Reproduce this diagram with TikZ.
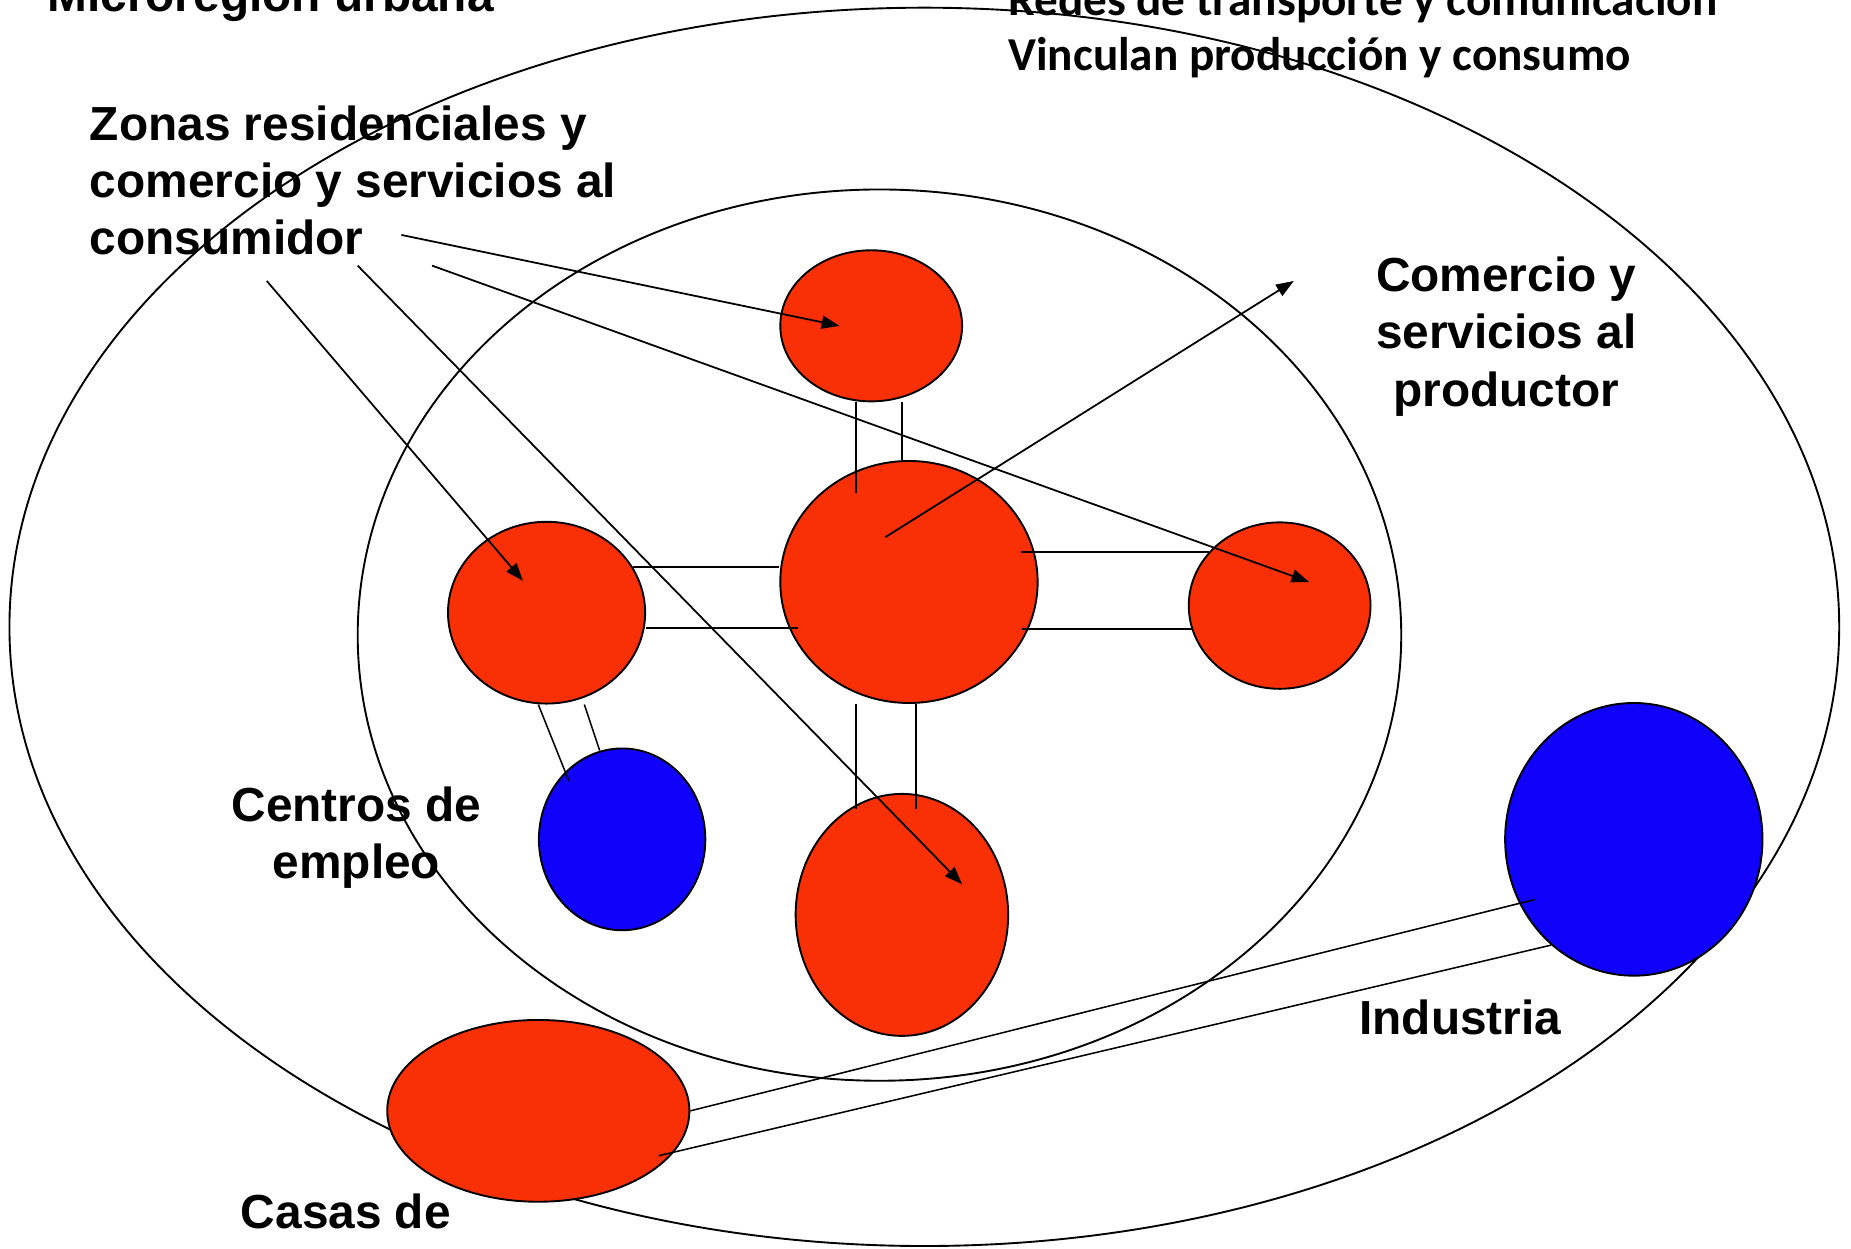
\documentclass[tikz,border=0pt]{standalone}
\usepackage{fontspec}
\setmainfont{Liberation Sans}
\newfontfamily\calibri{Carlito}
\usepackage{xcolor}
\usepackage{tikz}
\usetikzlibrary{arrows.meta}
\usetikzlibrary{shapes.geometric,calc}
\definecolor{rojoZona}{RGB}{249,48,6}
\definecolor{azulEmpleo}{RGB}{16,2,250}

\begin{document}
\begin{tikzpicture}[x = 1pt,y = -1pt,
    region/.style = {ellipse,draw,inner sep = 0pt,line width = 1.6pt},
    zona/.style = {ellipse,draw,fill = rojoZona,inner sep = 0pt,line width = 1.6pt},
    empleoZona/.style = {ellipse,draw,fill = azulEmpleo,inner sep = 0pt,line width = 1.6pt},
    via/.style = {line width = 1.3pt},
    flecha/.style = {-{Triangle[length = 15pt,width = 11pt]},line width = 1.5pt},
    etiqueta/.style = {inner sep = 0pt,font = \bfseries\fontsize{40.5}{48.5}\selectfont}]
    \useasboundingbox (0,0) rectangle (1568,1058);

    \node[region,minimum width = 1550pt,minimum height = 1049pt](microRegion) at (783,531) {};
    \node[region,minimum width = 884pt,minimum height = 755pt](ciudad) at (745,538) {};

    \node[zona,minimum width = 154pt,minimum height = 128pt](norte) at (738,276) {};
    \node[zona,minimum width = 218pt,minimum height = 205pt](centro) at (770,493) {};
    \node[zona,minimum width = 167pt,minimum height = 154pt](oeste) at (463,519) {};
    \node[zona,minimum width = 154pt,minimum height = 141pt](este) at (1084,513) {};
    \node[zona,minimum width = 180pt,minimum height = 205pt](sur) at (764,775) {};
    \node[zona,minimum width = 256pt,minimum height = 154pt](casas) at (456,941) {};
    \node[empleoZona,minimum width = 141pt,minimum height = 154pt](empleo) at (527,711) {};
    \node[empleoZona,minimum width = 218pt,minimum height = 231pt](industria) at (1384,711) {};

    \draw[via] ([xshift = -13pt]norte.south) -- ++(0,77);
    \draw[via] ([xshift = 26pt]norte.south) -- ([xshift = 26pt]norte.south |- centro.north);
    \draw[via] (oeste.28) -- (oeste.28 -| centro.west);
    \draw[via] ([yshift = -13pt]oeste.east) -- ++(129,0);
    \draw[via] (este.143) -- ++(-159,0);
    \draw[via] (este.195) -- ++(-144,0);
    \draw[via] ([xshift = -45pt]centro.south) -- ++(0,89);
    \draw[via] ([xshift = 6pt]centro.south) -- ++(0,89);
    \draw[via] ([xshift = -7pt]oeste.south) -- ++(26,65);
    \draw[via] ([xshift = 32pt]oeste.south) -- ++(13,39);
    \draw[via] (casas.east) -- ($(industria)+(-84,51)$);
    \draw[via] ($(casas)+(102,38)$) -- (industria.232);

    \coordinate (desdeZonas1) at (340,199);
    \coordinate (desdeZonas2) at (366,225);
    \coordinate (desdeZonas3) at (226,238);
    \coordinate (desdeZonas4) at (303,225);
    \coordinate (haciaComercio) at (1096,238);

    \draw[flecha] (desdeZonas1) -- ($(norte)+(-27,0)$);
    \draw[flecha] (desdeZonas2) -- ($(este)+(25,-20)$);
    \draw[flecha] (desdeZonas3) -- ($(oeste)+(-20,-27)$);
    \draw[flecha] (desdeZonas4) -- ($(sur)+(51,-26)$);
    \draw[flecha] ($(centro)+(-20,-38)$) -- (haciaComercio);

    \node[etiqueta,anchor = base west,align = left](lblMicro) at (40,10) {Microregión urbana};
    \node[etiqueta,anchor = base west,align = left](lblZonas) at (76,216) {Zonas residenciales y\\comercio y servicios al\\consumidor};
    \node[etiqueta,font = \calibri\bfseries\fontsize{40}{47}\selectfont,anchor = base west,align = left](lblRedes) at (854,60) {Redes de transporte y comunicación\\Vinculan producción y consumo};
    \node[etiqueta,anchor = base,align = center](lblComercio) at (1276,344) {Comercio y\\servicios al\\productor};
    \node[etiqueta,anchor = base,align = center](lblEmpleo) at (302,744) {Centros de\\empleo};
    \node[etiqueta,anchor = base](lblIndustria) at (1237,876) {Industria};
    \node[etiqueta,anchor = base](lblCasas) at (293,1041) {Casas de};
\end{tikzpicture}
\end{document}
